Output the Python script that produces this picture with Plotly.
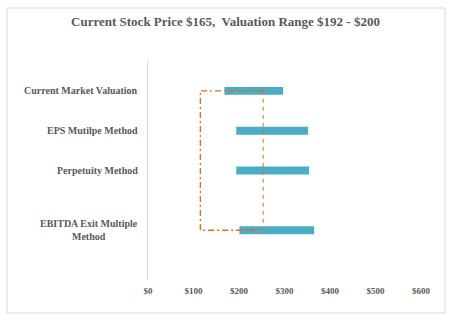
import plotly.graph_objects as go

categories = ["Current Market Valuation", "EPS Mutilpe Method", "Perpetuity Method", "EBITDA Exit Multiple<br>Method"]
y_pos = [4.75, 3.75, 2.75, 1.25]
low = [168, 194, 194, 201]
high = [297, 352, 354, 365]
bracket_left = 115
bracket_right = 253
x_ticks = [0, 100, 200, 300, 400, 500, 600]
x_tick_labels = ["$0", "$100", "$200", "$300", "$400", "$500", "$600"]
title = "Current Stock Price $165,  Valuation Range $192 - $200"

W, H = 460, 327
L, R, T, B = 148, 39, 61, 47
GRAY = "#595959"
ORANGE = "#E46C0A"
BLUE = "#4BACC6"
FONT = "Liberation Serif"

fig = go.Figure()
fig.add_trace(go.Bar(
    y=y_pos, x=[h - l for h, l in zip(high, low)], base=low, orientation="h",
    width=0.2, marker=dict(color=BLUE, line=dict(width=0)), hoverinfo="skip"))

top, bot = y_pos[0], y_pos[-1]
fig.add_trace(go.Scatter(x=[bracket_right, bracket_left, bracket_left, bracket_right],
                         y=[top, top, bot, bot], mode="lines",
                         line=dict(color=ORANGE, width=1.3, dash="6px,3px,2px,3px"), hoverinfo="skip"))
fig.add_trace(go.Scatter(x=[bracket_right, bracket_right], y=[top, bot], mode="lines",
                         line=dict(color=ORANGE, width=1, dash="4px,4px"), hoverinfo="skip"))

for cat, y in zip(categories, y_pos):
    fig.add_annotation(x=0, y=y, xref="x", yref="y", text="<b>" + cat + "</b>",
                       showarrow=False, xanchor="right", xshift=-8, align="center",
                       font=dict(family=FONT, size=10, color=GRAY))

pw, ph = W - L - R, H - T - B
fig.add_shape(type="rect", xref="paper", yref="paper",
              x0=(7 - L) / pw, x1=(445 - L) / pw,
              y0=(H - B - 313) / ph, y1=(H - B - 8) / ph,
              line=dict(color="#D9D9D9", width=1), layer="below")

fig.update_layout(
    width=W, height=H, margin=dict(l=L, r=R, t=T, b=B),
    paper_bgcolor="white", plot_bgcolor="white", showlegend=False,
    title=dict(text="<b>" + title + "</b>", x=225.5 / W, xanchor="center",
               y=1 - 21 / H, yanchor="middle", yref="container",
               font=dict(family=FONT, size=13, color=GRAY)),
    xaxis=dict(range=[0, 600], tickvals=x_ticks, ticktext=["<b>" + t + "</b>" for t in x_tick_labels],
               showgrid=False, zeroline=False, showline=False, ticks="",
               ticklabelstandoff=4,
               tickfont=dict(family=FONT, size=9, color=GRAY)),
    yaxis=dict(range=[0, 5.5], showticklabels=False, showgrid=False, zeroline=False,
               showline=True, linecolor="#D9D9D9", linewidth=1, ticks=""),
)
fig.write_html("out.html")
